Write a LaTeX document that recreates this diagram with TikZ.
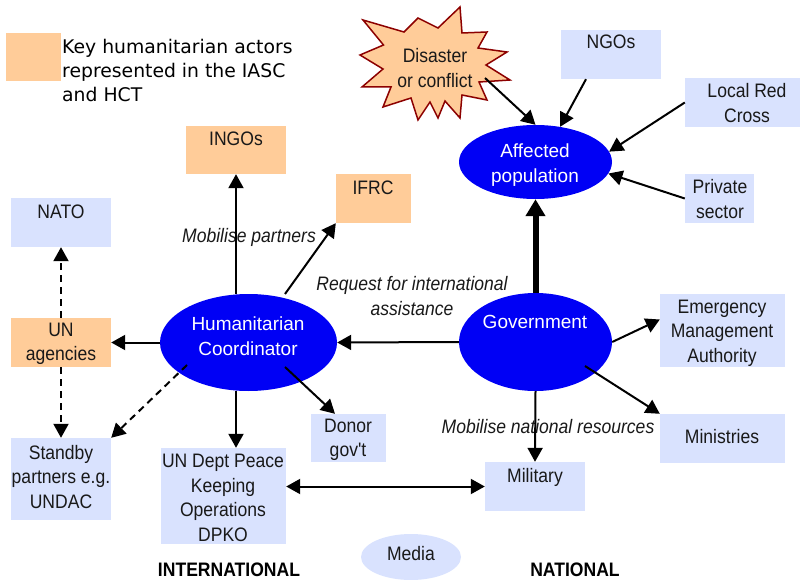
\documentclass[tikz,border=0pt]{standalone}
\usepackage{fontspec}
\setmainfont{Liberation Sans}
\newfontfamily\nar[FakeStretch=0.9]{Liberation Sans}
\newfontfamily\dejav{DejaVu Sans}
\usetikzlibrary{arrows.meta,shapes.geometric}
\definecolor{lb}{RGB}{217,226,254}
\definecolor{peach}{RGB}{255,204,153}
\definecolor{eblue}{RGB}{0,0,245}
\definecolor{starred}{RGB}{140,0,0}
\begin{document}
\begin{tikzpicture}[x=1pt,y=-1pt,
  bx/.style={fill=lb, draw=none, inner sep=0pt},
  pbx/.style={fill=peach, draw=none, inner sep=0pt},
  ell/.style={ellipse, fill=eblue, draw=none, inner sep=0pt},
  txt/.style={font=\nar\fontsize{19.5}{24.5}\selectfont, align=center, inner sep=0pt, text=black!90},
  itxt/.style={font=\nar\itshape\fontsize{19.5}{24.5}\selectfont, align=center, inner sep=0pt, text=black!90},
  btxt/.style={font=\nar\bfseries\fontsize{19.5}{24.5}\selectfont, align=center, inner sep=0pt, text=black},
  wtxt/.style={font=\fontsize{19}{24.5}\selectfont, align=center, inner sep=0pt, text=white},
  arr/.style={line width=2pt, -{Triangle[length=14pt,width=15pt]}},
  darr/.style={arr, dash pattern=on 7pt off 5pt},
  dblarr/.style={line width=2pt, {Triangle[length=14pt,width=15pt]}-{Triangle[length=14pt,width=15pt]}},
  bigarr/.style={line width=6pt, -{Triangle[length=17pt,width=19pt]}}
]
\useasboundingbox (0,0) rectangle (805,580);

% legend
\node[pbx, minimum width=55pt, minimum height=48pt] (leg) at (33.5,57) {};
\node[font=\dejav\fontsize{18.8}{24}\selectfont, align=left, anchor=west, inner sep=0pt] (tleg) at (62,70) {Key humanitarian actors\\represented in the IASC\\and HCT};

% starburst
\draw[fill=peach, draw=starred, line width=1.5pt]
  (460,7) -- (462,33) -- (487,32) -- (478,48) -- (507,52) -- (486,65) -- (510,80) -- (479,82)
  -- (487,100) -- (462,95) -- (460,118) -- (445,101) -- (438,118) -- (430,102) -- (418,120)
  -- (411,98) -- (383,107) -- (391,87) -- (362,87) -- (383,69) -- (360,55) -- (383.5,45)
  -- (363,20) -- (404,32) -- (418,18) -- (438,28) -- cycle;
\coordinate (starout) at (485,78);

% boxes
\node[bx, minimum width=100pt, minimum height=49pt] (ngo) at (611,54.5) {};
\node[bx, minimum width=115pt, minimum height=49pt] (lrc) at (742.5,102.5) {};
\node[bx, minimum width=69pt, minimum height=49pt] (priv) at (719.5,198.5) {};
\node[pbx, minimum width=100pt, minimum height=48pt] (ingo) at (236,150) {};
\node[pbx, minimum width=75pt, minimum height=49pt] (ifrc) at (373.5,198.5) {};
\node[bx, minimum width=100pt, minimum height=49pt] (nato) at (61,222.5) {};
\node[pbx, minimum width=100pt, minimum height=49pt] (una) at (61,342.5) {};
\node[bx, minimum width=100pt, minimum height=82pt] (stby) at (61,479) {};
\node[bx, minimum width=125pt, minimum height=96pt] (dpko) at (223.5,496) {};
\node[bx, minimum width=75pt, minimum height=48pt] (donor) at (348.5,438) {};
\node[bx, minimum width=100pt, minimum height=49pt] (mil) at (535,486.5) {};
\node[bx, minimum width=125pt, minimum height=73pt] (ema) at (722.5,330.5) {};
\node[bx, minimum width=125pt, minimum height=49pt] (mini) at (722.5,438.5) {};

% ellipses
\node[ell, minimum width=153pt, minimum height=74pt] (aff) at (535.5,162) {};
\node[ell, minimum width=177pt, minimum height=97pt] (hc) at (248.5,342.5) {};
\node[ell, minimum width=153pt, minimum height=98pt] (gov) at (535.5,342) {};
\node[ellipse, fill=lb, inner sep=0pt, minimum width=100pt, minimum height=46pt] (media) at (411,557) {};

% texts
\node[txt] (tngo) at (611,42) {NGOs};
\node[txt] (tlrc) at (747,103) {Local Red\\Cross};
\node[txt] (tpriv) at (720,199) {Private\\sector};
\node[wtxt] (taff) at (535,165) {Affected\\population};
\node[txt] (tstar) at (435,68) {Disaster\\or conflict};
\node[txt] (tingo) at (236,139) {INGOs};
\node[txt] (tifrc) at (373,188) {IFRC};
\node[txt] (tnato) at (61,212) {NATO};
\node[txt] (tuna) at (61,344) {UN\\agencies};
\node[txt] (tstby) at (61,477) {Standby\\partners e.g.\\UNDAC};
\node[wtxt] (thc) at (248,336) {Humanitarian\\Coordinator};
\node[wtxt] (tgov) at (535,322) {Government};
\node[itxt] (treq) at (412,296) {Request for international\\assistance};
\node[itxt] (tmp) at (249,237) {Mobilise partners};
\node[itxt] (tmn) at (548,427) {Mobilise national resources};
\node[txt] (tema) at (722,333) {Emergency\\Management\\Authority};
\node[txt] (tmin) at (722,437) {Ministries};
\node[txt] (tdon) at (348,440) {Donor\\gov't};
\node[txt] (tdpko) at (223,498) {UN Dept Peace\\Keeping\\Operations\\DPKO};
\node[txt] (tmil) at (535,477) {Military};
\node[txt] (tmed) at (411,554) {Media};
\node[btxt] (tint) at (229,570) {INTERNATIONAL};
\node[btxt] (tnat) at (575,570) {NATIONAL};

% connectors
\draw[arr] (starout) -- (aff.90);
\draw[arr] ([xshift=-25pt]ngo.south) -- (aff.55);
\draw[arr] (lrc.west) -- (aff.8);
\draw[arr] (priv.west) -- (aff.-9);
\draw[bigarr] (gov.north) -- (aff.south);
\draw[arr] (gov.west) -- (hc.east);
\draw[arr] (ingo.south |- hc.north) -- (ingo.south);
\draw[arr] ([shift={(36.5,-48.5)}]hc.center) -- (ifrc.south west);
\draw[arr] (hc.west) -- (una.east);
\draw[darr] ([shift={(-61.5,22.5)}]hc.center) -- (stby.north east);
\draw[darr] (una.north) -- (nato.south);
\draw[darr] (una.south) -- (stby.north);
\draw[arr] (ingo.south |- hc.south) -- (ingo.south |- dpko.north);
\draw[arr] ([shift={(36.5,24.5)}]hc.center) -- ([xshift=-13.5pt]donor.north);
\draw[dblarr] (dpko.east |- mil.west) -- (mil.west);
\draw[arr] (gov.south) -- (mil.north);
\draw[arr] (gov.east) -- ([yshift=11pt]ema.west);
\draw[arr] ([shift={(49.5,24)}]gov.center) -- (mini.north west);
\end{tikzpicture}
\end{document}
